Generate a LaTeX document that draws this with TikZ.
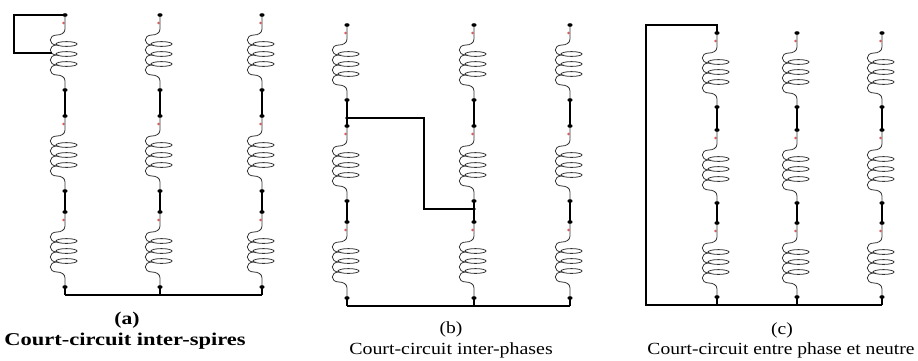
\documentclass[tikz,border=0pt]{standalone}
\usepackage{fontspec}
\setmainfont{Liberation Serif}
\usepackage{graphicx}
\definecolor{redmark}{HTML}{E05A5A}
\newcommand\coilunit[3]{% x0, ys, ye
  \fill[redmark] (#1-1.5,#2+8) circle (1.4);
  \draw[coilline] (#1,#2) -- (#1,#2+14)
    .. controls (#1,#2+18) and (#1-4,#2+20) .. (#1-8,#2+20)
    .. controls (#1-17,#2+20) and (#1-17,#2+30) .. (#1-8,#2+30)
    .. controls (#1-17,#2+30) and (#1-17,#2+40) .. (#1-8,#2+40)
    .. controls (#1-17,#2+40) and (#1-17,#2+50) .. (#1-8,#2+50)
    .. controls (#1-17,#2+50) and (#1-17,#2+60) .. (#1-8,#2+60)
    .. controls (#1-4,#2+60) and (#1,#2+62) .. (#1,#2+66) -- (#1,#3);
  \draw[coilline] (#1+1.5,#2+29) ellipse [x radius=10.5, y radius=2.4];
  \draw[coilline] (#1+1.5,#2+39) ellipse [x radius=10.5, y radius=2.4];
  \draw[coilline] (#1+1.5,#2+49) ellipse [x radius=10.5, y radius=2.4];
}
\newcommand\phase[9]{% name, x, top, p1, q1, p2, q2, bottom dot, bus
  \coordinate (#1-t) at (#2,#3);
  \coordinate (#1-p1) at (#2,#4);
  \coordinate (#1-q1) at (#2,#5);
  \coordinate (#1-p2) at (#2,#6);
  \coordinate (#1-q2) at (#2,#7);
  \coordinate (#1-b) at (#2,#8);
  \coordinate (#1-n) at (#2,#9);
  \coilunit{#2}{#3}{#4}
  \coilunit{#2}{#5}{#6}
  \coilunit{#2}{#7}{#8}
  \draw[bar] (#1-p1) -- (#1-q1);
  \draw[bar] (#1-p2) -- (#1-q2);
  \draw[wire] (#1-b) -- (#1-n);
  \foreach \c in {t,p1,q1,p2,q2,b}{\fill (#1-\c) ellipse [x radius=2.6, y radius=1.8];}
}
\begin{document}
\begin{tikzpicture}[x=1pt,y=-1pt,
  wire/.style={line width=1.2pt, black},
  coilline/.style={line width=0.8pt, black!80},
  bar/.style={line width=2pt, black},
  short/.style={line width=1.3pt, black},
  shortmid/.style={line width=1.7pt, black},
  shortthick/.style={line width=2.2pt, black},
  captxt/.style={font=\fontsize{18}{20}\selectfont\bfseries, inner sep=0pt},
  capsmall/.style={font=\fontsize{17}{19}\selectfont, inner sep=0pt}]
\useasboundingbox (0,0) rectangle (918,360);
% ---- panel (a)
\phase{a1}{65}{15}{90}{116}{191}{212}{287}{295}
\phase{a2}{160}{15}{90}{116}{191}{212}{287}{295}
\phase{a3}{262}{15}{90}{116}{191}{212}{287}{295}
\draw[wire] (a1-n) -- (a3-n);
\coordinate (sa-l) at (14,53);
\coordinate (sa-e) at (52,53);
\draw[shortmid] (a1-t) -| (sa-l) -- (sa-e);
\node[captxt] (capa1) at (127,320) {\scalebox{1.2}[1]{(a)}};
\node[captxt] (capa2) at (125,341) {\scalebox{1.25}[1]{Court-circuit inter-spires}};
% ---- panel (b)
\phase{b1}{347}{25}{100}{126}{201}{222}{298}{306}
\phase{b2}{474}{25}{100}{126}{201}{222}{298}{306}
\phase{b3}{570}{25}{100}{126}{201}{222}{298}{306}
\draw[wire] (b1-n) -- (b3-n);
\coordinate (sb-s) at (347,118);
\coordinate (sb-m) at (424,118);
\coordinate (sb-e) at (474,209);
\draw[short] (sb-s) -- (sb-m) |- (sb-e);
\fill (sb-s) circle (1.8);
\fill (sb-e) circle (1.8);
\node[capsmall] (capb1) at (451,329) {\scalebox{1.15}[1]{(b)}};
\node[capsmall] (capb2) at (451,350) {\scalebox{1.17}[1]{Court-circuit inter-phases}};
% ---- panel (c)
\phase{c1}{717}{33}{107}{130}{203}{223}{297}{305}
\phase{c2}{797}{33}{107}{130}{203}{223}{297}{305}
\phase{c3}{882}{33}{107}{130}{203}{223}{297}{305}
\coordinate (sc-a) at (717,25);
\coordinate (sc-b) at (646,25);
\coordinate (sc-c) at (646,305);
\draw[shortthick] (c1-t) -- (sc-a) -- (sc-b) -- (sc-c) -- (c3-n);
\node[capsmall] (capc1) at (782,330) {\scalebox{1.15}[1]{(c)}};
\node[capsmall] (capc2) at (781,350) {\scalebox{1.15}[1]{Court-circuit entre phase et neutre}};
\end{tikzpicture}
\end{document}
